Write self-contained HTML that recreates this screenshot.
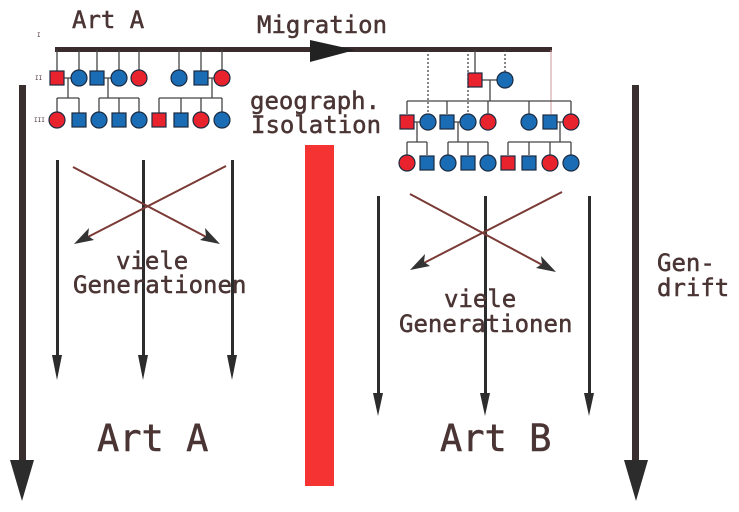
<!DOCTYPE html>
<html><head><meta charset="utf-8"><style>
html,body{margin:0;padding:0;background:#fff;}
svg{display:block;}
text{font-family:"DejaVu Sans Mono","Liberation Mono",monospace;fill:#4a3434;stroke:#4a3434;stroke-width:0.5;}
.sq{fill:#1a6db5;stroke:#1a2a40;stroke-width:1.2}
.ci{fill:#1a6db5;stroke:#1a2a40;stroke-width:1.2}
.r{fill:#e8232e}
.ln{stroke:#444;stroke-width:1.3;fill:none}
</style></head><body>
<svg width="739" height="512" viewBox="0 0 739 512" xmlns="http://www.w3.org/2000/svg">
<!-- texts top -->
<text x="72" y="28" font-size="24">Art A</text>
<text x="257" y="33" font-size="24">Migration</text>
<text x="250" y="109" font-size="24">geograph.</text>
<text x="251" y="133" font-size="24">Isolation</text>
<text x="37" y="37" font-size="6" style="stroke:none">I</text>
<text x="35" y="80" font-size="6" style="stroke:none">II</text>
<text x="34" y="122" font-size="6" style="stroke:none">III</text>

<!-- Migration line -->
<rect x="55" y="47" width="497" height="5" fill="#3a2c2c"/>
<polygon points="310,40 355,50 310,62" fill="#222"/>

<!-- left pedigree -->
<g class="ln">
<path d="M57,50V71 M79,50V70 M97,50V71 M119,50V70 M139,50V70 M179,50V70 M201,50V71 M222,50V70"/>
<path d="M64,78H71 M104,78H111 M208,78H214"/>
<path d="M68,78V98 M57,98H79 M57,98V112 M79,98V113"/>
<path d="M108,78V98 M99,98H139 M99,98V112 M119,98V113 M139,98V112"/>
<path d="M212,78V98 M159,98H222 M159,98V113 M181,98V113 M201,98V112 M222,98V112"/>
</g>
<rect class="sq r" x="50" y="71" width="14" height="14"/>
<circle class="ci" cx="79" cy="78" r="8"/>
<rect class="sq" x="90" y="71" width="14" height="14"/>
<circle class="ci" cx="119" cy="78" r="8"/>
<circle class="ci r" cx="139" cy="78" r="8"/>
<circle class="ci" cx="179" cy="78" r="8"/>
<rect class="sq" x="194" y="71" width="14" height="14"/>
<circle class="ci r" cx="222" cy="78" r="8"/>

<circle class="ci r" cx="57" cy="120" r="8"/>
<rect class="sq" x="72" y="113" width="14" height="14"/>
<circle class="ci" cx="99" cy="120" r="8"/>
<rect class="sq" x="112" y="113" width="14" height="14"/>
<circle class="ci" cx="139" cy="120" r="8"/>
<rect class="sq r" x="152" y="113" width="14" height="14"/>
<rect class="sq" x="174" y="113" width="14" height="14"/>
<circle class="ci r" cx="201" cy="120" r="8"/>
<circle class="ci" cx="222" cy="120" r="8"/>

<!-- right pedigree -->
<g class="ln">
<path d="M475,50V73"/>
<path d="M505,50V72" stroke-dasharray="2,2"/>
<path d="M428,50V114 M468,50V114" stroke-dasharray="2,2"/>
<path d="M551,50V114" stroke="#c99" stroke-width="1"/>
<path d="M482,80H497 M490,80V101 M407,101H571 M407,101V114 M447,101V114 M488,101V114 M529,101V114 M571,101V114"/>
<path d="M414,122H420 M454,122H460 M557,122H563"/>
<path d="M417,122V142 M407,142H427 M407,142V155 M427,142V155"/>
<path d="M458,122V142 M448,142H488 M448,142V155 M468,142V155 M488,142V155"/>
<path d="M560,122V142 M508,142H571 M508,142V155 M529,142V155 M550,142V155 M571,142V155"/>
</g>
<rect class="sq r" x="468" y="73" width="14" height="14"/>
<circle class="ci" cx="505" cy="80" r="8"/>

<rect class="sq r" x="400" y="115" width="14" height="14"/>
<circle class="ci" cx="428" cy="122" r="8"/>
<rect class="sq" x="440" y="115" width="14" height="14"/>
<circle class="ci" cx="468" cy="122" r="8"/>
<circle class="ci r" cx="488" cy="122" r="8"/>
<circle class="ci" cx="529" cy="122" r="8"/>
<rect class="sq" x="543" y="115" width="14" height="14"/>
<circle class="ci r" cx="571" cy="122" r="8"/>

<circle class="ci r" cx="407" cy="163" r="8"/>
<rect class="sq" x="420" y="156" width="14" height="14"/>
<circle class="ci" cx="448" cy="163" r="8"/>
<rect class="sq" x="461" y="156" width="14" height="14"/>
<circle class="ci" cx="488" cy="163" r="8"/>
<rect class="sq r" x="501" y="156" width="14" height="14"/>
<rect class="sq" x="522" y="156" width="14" height="14"/>
<circle class="ci r" cx="550" cy="163" r="8"/>
<circle class="ci" cx="571" cy="163" r="8"/>

<!-- red isolation bar -->
<rect x="305" y="145" width="29" height="341" fill="#f53333"/>

<!-- big arrows -->
<rect x="19" y="85" width="7" height="380" fill="#3a2f2f"/>
<polygon points="10,460 34,460 22,501" fill="#2c2c2c"/>
<rect x="632" y="85" width="7" height="380" fill="#3a2f2f"/>
<polygon points="624,460 648,460 636,501" fill="#2c2c2c"/>

<!-- thin arrows -->
<g fill="#2c2c2c">
<rect x="56" y="160" width="3" height="200"/><polygon points="52,355 62,355 57,380"/>
<rect x="142" y="160" width="3" height="200"/><polygon points="138,355 148,355 143,380"/>
<rect x="231" y="160" width="3" height="200"/><polygon points="227,355 237,355 232,380"/>
<rect x="377" y="196" width="3" height="200"/><polygon points="373,393 383,393 378,416"/>
<rect x="484" y="196" width="3" height="200"/><polygon points="480,393 490,393 485,416"/>
<rect x="588" y="196" width="3" height="200"/><polygon points="584,393 594,393 589,416"/>
</g>

<!-- crosses -->
<g stroke="#7a3a36" stroke-width="2" fill="none">
<line x1="73" y1="167" x2="212" y2="240"/>
<line x1="226" y1="166" x2="82" y2="240"/>
<line x1="410" y1="194" x2="548" y2="268"/>
<line x1="562" y1="192" x2="418" y2="266"/>
</g>
<g fill="#333">
<polygon points="220,244 200,240 206,236 205,228"/>
<polygon points="74,244 94,240 88,236 89,228"/>
<polygon points="556,272 536,268 542,264 541,256"/>
<polygon points="410,270 430,266 424,262 425,254"/>
</g>

<text x="116" y="269" font-size="24">viele</text>
<text x="73" y="293" font-size="24">Generationen</text>
<text x="444" y="307" font-size="24">viele</text>
<text x="399" y="332" font-size="24">Generationen</text>
<text x="657" y="271" font-size="24">Gen-</text>
<text x="657" y="296" font-size="24">drift</text>

<text x="97" y="451" font-size="37">Art A</text>
<text x="440" y="451" font-size="37">Art B</text>
</svg>
</body></html>
